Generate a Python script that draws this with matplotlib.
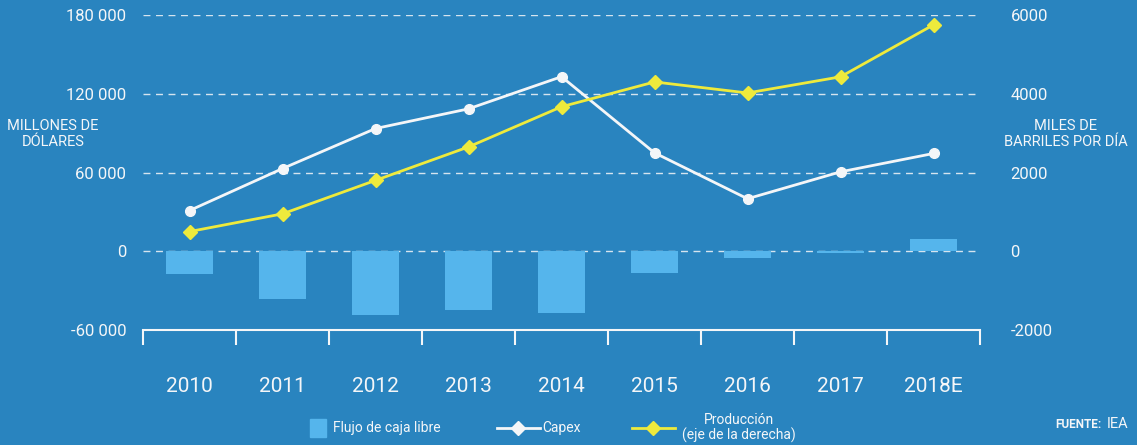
import matplotlib
matplotlib.use("Agg")
import matplotlib.pyplot as plt
from matplotlib.lines import Line2D
from matplotlib.patches import Rectangle
import numpy as np

plt.rcParams['font.family'] = ['Roboto', 'DejaVu Sans']

years = ["2010", "2011", "2012", "2013", "2014", "2015", "2016", "2017", "2018E"]
flujo = [-17500, -36500, -48500, -44500, -47000, -16500, -5500, -1500, 9500]
capex = [31000, 63000, 93500, 108500, 133000, 75000, 40000, 60500, 74500]
produccion = [500, 950, 1800, 2650, 3670, 4300, 4020, 4430, 5750]

left_ticks = [-60000, 0, 60000, 120000, 180000]
left_labels = ["-60 000", "0", "60 000", "120 000", "180 000"]
right_ticks = [-2000, 0, 2000, 4000, 6000]
right_labels = ["-2000", "0", "2000", "4000", "6000"]

bg = '#2984bf'
bar_col = '#55b5ec'
yellow = '#eeea3c'
white = '#f4f6f8'

fig = plt.figure(figsize=(11.37, 4.45), dpi=100, facecolor=bg)
ax = fig.add_axes([143/1137, 1-330/445, (980-143)/1137, (330-15)/445])
ax.set_facecolor(bg)
x = np.arange(len(years))

# grid
for t in left_ticks[1:]:
    ax.axhline(t, color=white, lw=1, ls=(0, (5, 4)), alpha=0.85, zorder=1)

ax.bar(x, flujo, width=0.5, color=bar_col, zorder=2)
ax.plot(x, capex, color=white, lw=2, marker='o', ms=7, mfc=white, mec=white, zorder=4, clip_on=False)

ax.set_xlim(-0.5, len(years) - 0.5)
ax.set_ylim(-60000, 180000)

ax2 = ax.twinx()
ax2.plot(x, produccion, color=yellow, lw=2, marker='D', ms=7, mfc=yellow, mec=yellow, zorder=3, clip_on=False)
ax2.set_ylim(-2000, 6000)

for a in (ax, ax2):
    for s in a.spines.values():
        s.set_visible(False)

ax.spines['bottom'].set_visible(True)
ax.spines['bottom'].set_color(white)
ax.spines['bottom'].set_linewidth(1.5)

ax.set_xticks(np.arange(-0.5, len(years), 1.0))
ax.set_xticklabels([])
ax.tick_params(axis='x', which='major', direction='out', length=11, width=1.5, color=white)
ax.set_xticks(x, minor=True)
ax.set_xticklabels(years, minor=True)
ax.tick_params(axis='x', which='minor', length=0, pad=34, labelsize=15, labelcolor=white)

ax.set_yticks(left_ticks)
ax.set_yticklabels(left_labels)
ax.tick_params(axis='y', length=0, pad=12, labelsize=12, labelcolor=white)

ax2.set_yticks(right_ticks)
ax2.set_yticklabels(right_labels)
ax2.tick_params(axis='y', length=0, pad=22, labelsize=12, labelcolor=white)

fig.text(53/1137, 1-134/445, "MILLONES DE\nDÓLARES", color=white, fontsize=10.5,
         ha='center', va='center', linespacing=1.15)
fig.text(1066/1137, 1-134/445, "MILES DE\nBARRILES POR DÍA", color=white, fontsize=10.5,
         ha='center', va='center', linespacing=1.15)

# legend
ly = 1 - 428/445
fig.add_artist(Rectangle((310/1137, 1-437/445), 16/1137, 18/445, transform=fig.transFigure,
                         color=bar_col))
fig.text(333/1137, ly, "Flujo de caja libre", color=white, fontsize=10, va='center')
fig.add_artist(Line2D([497/1137, 540/1137], [ly, ly], transform=fig.transFigure, color=white, lw=2))
fig.add_artist(Line2D([518/1137], [ly], transform=fig.transFigure, marker='D', ms=7, color=white))
fig.text(542/1137, ly, "Capex", color=white, fontsize=10, va='center')
fig.add_artist(Line2D([632/1137, 675/1137], [ly, ly], transform=fig.transFigure, color=yellow, lw=2))
fig.add_artist(Line2D([653/1137], [ly], transform=fig.transFigure, marker='D', ms=7, color=yellow))
fig.text(739/1137, ly, "Producción\n(eje de la derecha)", color=white, fontsize=10,
         ha='center', va='center', linespacing=1.05)

fig.text(1102/1137, 1-424/445, "FUENTE:", color=white, fontsize=8.5, fontweight='bold',
         ha='right', va='center')
fig.text(1107/1137, 1-424/445, "IEA", color=white, fontsize=10.5, ha='left', va='center')

fig.savefig("out.png", dpi=100, facecolor=bg)
